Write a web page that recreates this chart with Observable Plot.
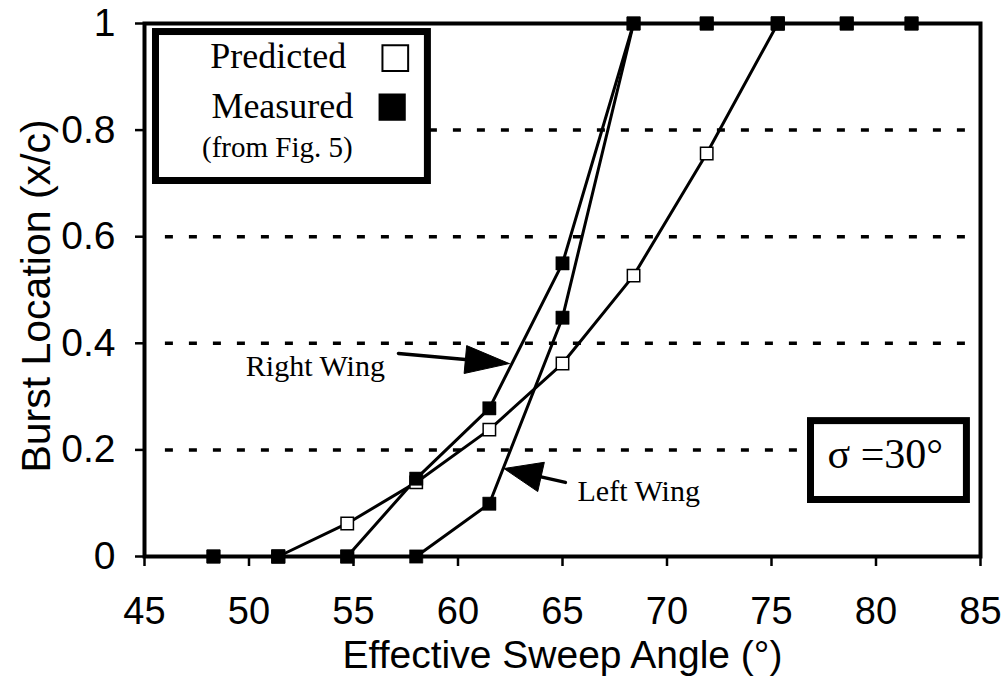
<!DOCTYPE html>
<html><head><meta charset="utf-8">
<script src="https://cdn.jsdelivr.net/npm/d3@7"></script>
<script src="https://cdn.jsdelivr.net/npm/@observablehq/plot@0.6"></script>
<style>html,body{margin:0;padding:0;background:#fff}#chart{position:absolute;left:0;top:0}</style>
</head><body><div id="chart"></div>
<script>
// ---- data ----
const sweepAngle     = [48.3, 51.4, 54.7, 58.0, 61.5, 65.0, 68.4, 71.9, 75.3, 78.6, 81.7];
const rightWingBurst = [0, 0, 0, 0.146, 0.278, 0.55, 1, 1, 1, 1, 1];
const leftWingBurst  = [0, 0, 0, 0, 0.099, 0.448, 1, 1, 1, 1, 1];
const predictedAngle = [51.4, 54.7, 58.0, 61.5, 65.0, 68.4, 71.9, 75.3];
const predictedBurst = [0, 0.062, 0.139, 0.238, 0.362, 0.527, 0.756, 1];
const xTicks = [45, 50, 55, 60, 65, 70, 75, 80, 85];
const yTicks = [0, 0.2, 0.4, 0.6, 0.8, 1];
const gridLevels = [0.2, 0.4, 0.6, 0.8];
const xLabel = "Effective Sweep Angle (°)";
const yLabel = "Burst Location (x/c)";
const legendLabels = ["Predicted", "Measured", "(from Fig. 5)"];
const sigmaLabel = "σ =30°";
const wingLabels = ["Right Wing", "Left Wing"];

// ---- layout ----
const W = 1004, H = 685, ML = 144, MR = 24, MT = 23, MB = 129;
const xDom = [45, 85], yDom = [0, 1];
const kx = (W - ML - MR) / (xDom[1] - xDom[0]);
const ky = (H - MT - MB) / (yDom[1] - yDom[0]);
const SANS = "Liberation Sans, Arial, Helvetica, sans-serif";
const SERIF = "Liberation Serif, Times New Roman, serif";

const rightWing = sweepAngle.map((x, i) => ({x, y: rightWingBurst[i]}));
const leftWing = sweepAngle.map((x, i) => ({x, y: leftWingBurst[i]}));
const predicted = predictedAngle.map((x, i) => ({x, y: predictedBurst[i]}));
const measuredPts = rightWing.concat(leftWing);

// annotation geometry (data units)
const legendBox = {x1: 45.55, x2: 58.56, y1: 0.7045, y2: 0.984};
const sigmaBox = {x1: 76.89, x2: 84.35, y1: 0.106, y2: 0.254};
const legendText = [
  {x: 48.15, y: 0.9156, t: legendLabels[0], s: 36},
  {x: 48.2, y: 0.8218, t: legendLabels[1], s: 36},
  {x: 47.75, y: 0.7486, t: legendLabels[2], s: 29}
];
const legendOpen = [{x: 57.0, y: 0.935}];
const legendFilled = [{x: 56.85, y: 0.843}];
const wingText = [
  {x: 49.85, y: 0.338, t: wingLabels[0]},
  {x: 65.72, y: 0.105, t: wingLabels[1]}
];
const arrows = [
  {tail: [57.15, 0.381], tip: [62.45, 0.362], len: 44, half: 14},
  {tail: [65.14, 0.139], tip: [62.2, 0.165], len: 38, half: 15}
];
function arrowParts(a) {
  const dx = (a.tip[0] - a.tail[0]) * kx, dy = -(a.tip[1] - a.tail[1]) * ky;
  const L = Math.hypot(dx, dy), ux = dx / L, uy = dy / L;
  const bx = -ux * a.len, by = -uy * a.len, px = -uy * a.half, py = ux * a.half;
  const toData = (ox, oy) => [a.tip[0] + ox / kx, a.tip[1] - oy / ky];
  return {
    shaft: [a.tail, toData(bx, by)],
    head: [a.tip, toData(bx + px, by + py), toData(bx - px, by - py), a.tip]
  };
}
const arrowMarks = arrows.flatMap(a => {
  const p = arrowParts(a);
  return [
    Plot.line(p.shaft, {x: d => d[0], y: d => d[1], stroke: "black", strokeWidth: 3.5}),
    Plot.line(p.head, {x: d => d[0], y: d => d[1], fill: "black", stroke: "black", strokeWidth: 1})
  ];
});

const chart = Plot.plot({
  width: W, height: H,
  marginLeft: ML, marginRight: MR, marginTop: MT, marginBottom: MB,
  x: {domain: xDom},
  y: {domain: yDom},
  style: {fontFamily: SANS, background: "white", color: "black"},
  marks: [
    Plot.ruleY(gridLevels, {x1: 46.0, x2: 84.4, stroke: "black", strokeWidth: 3.5, strokeDasharray: "8,16"}),
    Plot.rect([legendBox], {x1: "x1", x2: "x2", y1: "y1", y2: "y2", fill: "white", stroke: "black", strokeWidth: 7}),
    Plot.rect([sigmaBox], {x1: "x1", x2: "x2", y1: "y1", y2: "y2", fill: "white", stroke: "black", strokeWidth: 7}),
    Plot.line(predicted, {x: "x", y: "y", stroke: "black", strokeWidth: 3}),
    Plot.line(rightWing, {x: "x", y: "y", stroke: "black", strokeWidth: 3}),
    Plot.line(leftWing, {x: "x", y: "y", stroke: "black", strokeWidth: 3}),
    Plot.frame({stroke: "black", strokeWidth: 4}),
    Plot.axisX({ticks: xTicks, tickSize: 10, tickPadding: 31, fontSize: 38, strokeWidth: 2.5, label: null, tickFormat: d => String(d)}),
    Plot.axisY({ticks: yTicks, tickSize: 9, tickPadding: 20, fontSize: 39, strokeWidth: 2.5, label: null, tickFormat: d => String(d)}),
    Plot.dot(predicted, {x: "x", y: "y", symbol: "square", r: 7, fill: "white", stroke: "black", strokeWidth: 1.5}),
    Plot.dot(measuredPts, {x: "x", y: "y", symbol: "square", r: 7.5, fill: "black", stroke: "black", strokeWidth: 0.5}),
    ...arrowMarks,
    Plot.text(legendText, {x: "x", y: "y", text: "t", fontSize: d => d.s, textAnchor: "start", lineAnchor: "bottom", fontFamily: SERIF}),
    Plot.dot(legendOpen, {x: "x", y: "y", symbol: "square", r: 14.5, fill: "white", stroke: "black", strokeWidth: 2}),
    Plot.dot(legendFilled, {x: "x", y: "y", symbol: "square", r: 14.5, fill: "black", stroke: "black"}),
    Plot.text(wingText, {x: "x", y: "y", text: "t", fontSize: 30, textAnchor: "start", lineAnchor: "bottom", fontFamily: SERIF}),
    Plot.text([sigmaLabel], {x: 77.68, y: (556 - 467) / 533, text: d => d, fontSize: 42, textAnchor: "start", lineAnchor: "bottom", fontFamily: SERIF}),
    Plot.text([xLabel], {frameAnchor: "bottom", dy: 111, text: d => d, fontSize: 39, textAnchor: "middle", lineAnchor: "bottom", fontFamily: SANS}),
    Plot.text([yLabel], {frameAnchor: "left", dx: -95, dy: 6, rotate: -90, text: d => d, fontSize: 41, textAnchor: "middle", lineAnchor: "bottom", fontFamily: SANS})
  ]
});
document.getElementById("chart").appendChild(chart);
</script>
</body></html>
